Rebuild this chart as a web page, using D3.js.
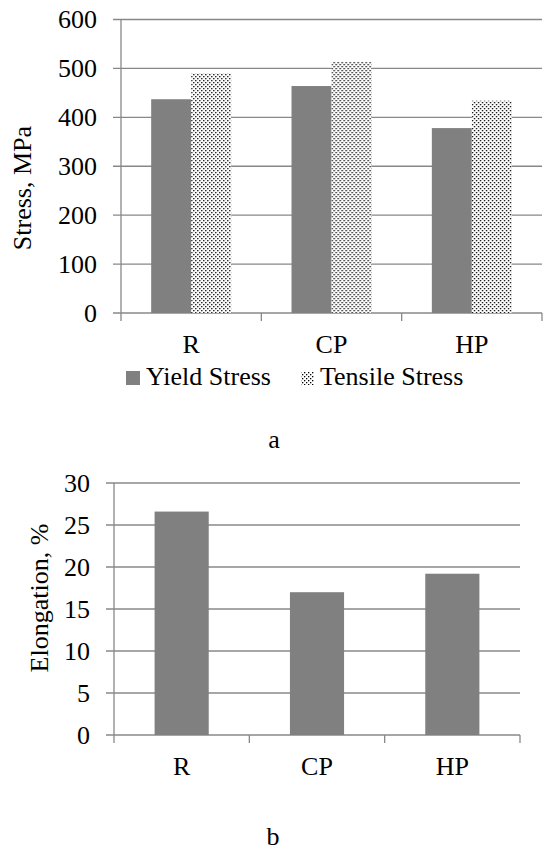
<!DOCTYPE html>
<html>
<head>
<meta charset="utf-8">
<script src="https://cdn.jsdelivr.net/npm/d3@7"></script>
<style>
  body { margin: 0; background: #fff; }
  svg { display: block; }
  svg text { font-family: "Liberation Serif", "DejaVu Serif", serif; fill: #000; }
</style>
</head>
<body>
<div id="chart"></div>
<script>
// data
var categories = ["R", "CP", "HP"];
var series = ["Yield Stress", "Tensile Stress"];
var yieldStress = [437, 464, 378];
var tensileStress = [490, 513, 434];
var stressTicks = [0, 100, 200, 300, 400, 500, 600];
var elongation = [26.6, 17.0, 19.2];
var elongTicks = [0, 5, 10, 15, 20, 25, 30];

var W = 543, H = 852;
var gridColor = "#888888";
var barColor = "#808080";
var fontSize = 26;
var serif = "'Liberation Serif', 'DejaVu Serif', serif";

var svg = d3.select("#chart").append("svg")
  .attr("width", W)
  .attr("height", H);

// dotted fill for tensile bars
var defs = svg.append("defs");
var pat = defs.append("pattern")
  .attr("id", "dots")
  .attr("patternUnits", "userSpaceOnUse")
  .attr("width", 4).attr("height", 4);
pat.append("rect").attr("width", 4).attr("height", 4).attr("fill", "#fff");
pat.append("rect").attr("x", 0).attr("y", 0).attr("width", 1.3).attr("height", 1.3).attr("fill", "#000");
pat.append("rect").attr("x", 2).attr("y", 2).attr("width", 1.3).attr("height", 1.3).attr("fill", "#000");

function label(sel) {
  return sel.attr("font-family", serif).style("font-size", fontSize + "px");
}

// draws gridlines, axis lines, ticks and labels for one panel
function drawFrame(g, x, y, ticks, box) {
  // horizontal gridlines with outside tick
  g.append("g").selectAll("line")
    .data(ticks).enter().append("line")
    .attr("x1", box.left - 8).attr("x2", box.right)
    .attr("y1", function(d) { return y(d); })
    .attr("y2", function(d) { return y(d); })
    .attr("stroke", gridColor).attr("stroke-width", 1.3);
  // y axis line
  g.append("line")
    .attr("x1", box.left).attr("x2", box.left)
    .attr("y1", box.top).attr("y2", box.bottom)
    .attr("stroke", gridColor).attr("stroke-width", 1.3);
  // category boundary ticks
  var step = x.step();
  var bounds = [0, 1, 2, 3].map(function(i) { return box.left + i * step; });
  g.append("g").selectAll("line")
    .data(bounds).enter().append("line")
    .attr("x1", function(d) { return d; }).attr("x2", function(d) { return d; })
    .attr("y1", box.bottom).attr("y2", box.bottom + 8)
    .attr("stroke", gridColor).attr("stroke-width", 1.3);
  // y tick labels
  g.append("g").selectAll("text")
    .data(ticks).enter().append("text")
    .attr("x", box.left - 24)
    .attr("y", function(d) { return y(d); })
    .attr("dy", "0.34em")
    .attr("text-anchor", "end")
    .call(label)
    .text(function(d) { return d; });
  // category labels
  g.append("g").selectAll("text")
    .data(categories).enter().append("text")
    .attr("x", function(d) { return x(d) + x.bandwidth() / 2; })
    .attr("y", box.bottom + 40)
    .attr("text-anchor", "middle")
    .call(label)
    .text(function(d) { return d; });
}

// ---------- panel a: stress ----------
var boxA = { left: 121, right: 542, top: 19.5, bottom: 313 };
var xA = d3.scaleBand().domain(categories)
  .range([boxA.left, boxA.right])
  .paddingInner(0.43).paddingOuter(0.215);
var xAs = d3.scaleBand().domain(series).range([0, xA.bandwidth()]);
var yA = d3.scaleLinear().domain([0, 600]).range([boxA.bottom, boxA.top]);

var gA = svg.append("g");
drawFrame(gA, xA, yA, stressTicks, boxA);

var rowsA = categories.map(function(c, i) {
  return { cat: c, vals: [yieldStress[i], tensileStress[i]] };
});
var groups = gA.append("g").selectAll("g")
  .data(rowsA).enter().append("g")
  .attr("transform", function(d) { return "translate(" + xA(d.cat) + ",0)"; });
groups.selectAll("rect")
  .data(function(d) { return d.vals.map(function(v, j) { return { s: series[j], v: v }; }); })
  .enter().append("rect")
  .attr("x", function(d) { return xAs(d.s); })
  .attr("width", xAs.bandwidth())
  .attr("y", function(d) { return yA(d.v); })
  .attr("height", function(d) { return yA(0) - yA(d.v); })
  .attr("fill", function(d, j) { return j === 0 ? barColor : "url(#dots)"; });

gA.append("text")
  .attr("transform", "translate(31,188) rotate(-90)")
  .attr("text-anchor", "middle")
  .call(label)
  .text("Stress, MPa");

// legend
var legend = gA.append("g");
var legendItems = [
  { name: series[0], x: 126, fill: barColor, size: 14 },
  { name: series[1], x: 301, fill: "url(#dots)", size: 13 }
];
legend.selectAll("rect")
  .data(legendItems).enter().append("rect")
  .attr("x", function(d) { return d.x; })
  .attr("y", function(d) { return 385 - d.size; })
  .attr("width", function(d) { return d.size; })
  .attr("height", function(d) { return d.size; })
  .attr("fill", function(d) { return d.fill; });
legend.selectAll("text")
  .data(legendItems).enter().append("text")
  .attr("x", function(d) { return d.x + d.size + 6; })
  .attr("y", 385)
  .call(label)
  .text(function(d) { return d.name; });

svg.append("text")
  .attr("x", 274).attr("y", 448)
  .attr("text-anchor", "middle")
  .call(label)
  .text("a");

// ---------- panel b: elongation ----------
var boxB = { left: 114, right: 520, top: 483, bottom: 735 };
var xB = d3.scaleBand().domain(categories)
  .range([boxB.left, boxB.right])
  .paddingInner(0.6).paddingOuter(0.3);
var yB = d3.scaleLinear().domain([0, 30]).range([boxB.bottom, boxB.top]);

var gB = svg.append("g");
drawFrame(gB, xB, yB, elongTicks, boxB);

gB.append("g").selectAll("rect")
  .data(categories).enter().append("rect")
  .attr("x", function(d) { return xB(d); })
  .attr("width", xB.bandwidth())
  .attr("y", function(d, i) { return yB(elongation[i]); })
  .attr("height", function(d, i) { return yB(0) - yB(elongation[i]); })
  .attr("fill", barColor);

gB.append("text")
  .attr("transform", "translate(48,598) rotate(-90)")
  .attr("text-anchor", "middle")
  .call(label)
  .text("Elongation, %");

svg.append("text")
  .attr("x", 273).attr("y", 845)
  .attr("text-anchor", "middle")
  .call(label)
  .text("b");
</script>
</body>
</html>
